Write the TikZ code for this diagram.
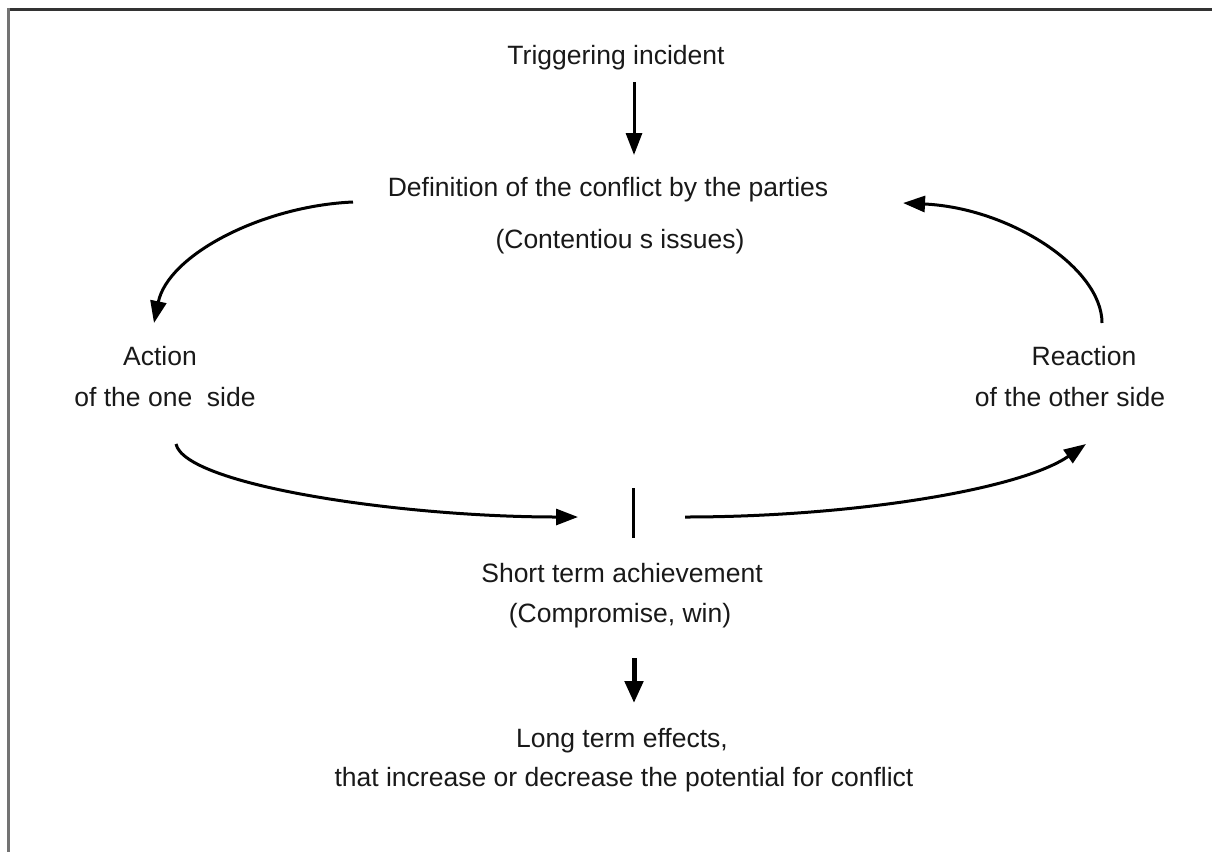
\documentclass[tikz,border=0pt]{standalone}
\usepackage{fontspec}
\setmainfont{Liberation Sans}
\usetikzlibrary{arrows.meta}
\begin{document}
\begin{tikzpicture}[x=1pt,y=-1pt,
  lbl/.style={inner sep=0pt, font=\fontsize{26.5}{32}\selectfont, text=black!90},
  conn/.style={line width=3pt, -{Triangle[length=22pt,width=16pt]}},
  bigtip/.style={line width=3pt, -{Triangle[length=24pt,width=18pt]}}]
\useasboundingbox (0,0) rectangle (1212,852);
\fill[white] (0,0) rectangle (1212,852);
% frame
\draw[line width=3pt, black!80] (7,9.5) -- (1212,9.5);
\draw[line width=3pt, black!55] (8.5,8) -- (8.5,852);
% texts
\node[lbl] (trig) at (616,58) {Triggering incident};
\node[lbl] (def1) at (608,190) {Definition of the conflict by the parties};
\node[lbl] (def2) at (620,242) {(Contentiou s issues)};
\node[lbl] (act1) at (160,356) {Action};
\node[lbl] (act2) at (165,397) {of the one\ \ side};
\node[lbl] (rea1) at (1084,356) {Reaction};
\node[lbl] (rea2) at (1070,397) {of the other side};
\node[lbl] (sh1) at (622,573) {Short term achievement};
\node[lbl] (sh2) at (620,616) {(Compromise, win)};
\node[lbl] (lo1) at (622,741) {Long term effects,};
\node[lbl] (lo2) at (624,780) {that increase or decrease the potential for conflict};
% connector endpoints
\coordinate (t0) at (634,82);
\coordinate (t1) at (634,155);
\coordinate (la0) at (353,202);
\coordinate (la1) at (154,323);
\coordinate (ra0) at (1102,323);
\coordinate (ra1) at (903,203);
\coordinate (bl0) at (176,444);
\coordinate (bl1) at (578,517);
\coordinate (br0) at (685,517);
\coordinate (br1) at (1086,444);
\coordinate (bar0) at (633,488);
\coordinate (bar1) at (633,538);
\coordinate (s0) at (634,658);
\coordinate (s1) at (634,703);
% connectors
\draw[conn] (t0) -- (t1);
\draw[conn] (la0) .. controls (262,206) and (168,255) .. (la1);
\draw[conn] (ra0) .. controls (1102,268) and (1010,208) .. (ra1);
\draw[conn] (bl0) .. controls (185,485) and (400,517) .. (bl1);
\draw[conn] (br0) .. controls (850,517) and (1020,490) .. (br1);
\draw[line width=3pt] (bar0) -- (bar1);
\draw[line width=5pt, -{Triangle[length=22pt,width=18pt]}] (s0) -- (s1);
\end{tikzpicture}
\end{document}
